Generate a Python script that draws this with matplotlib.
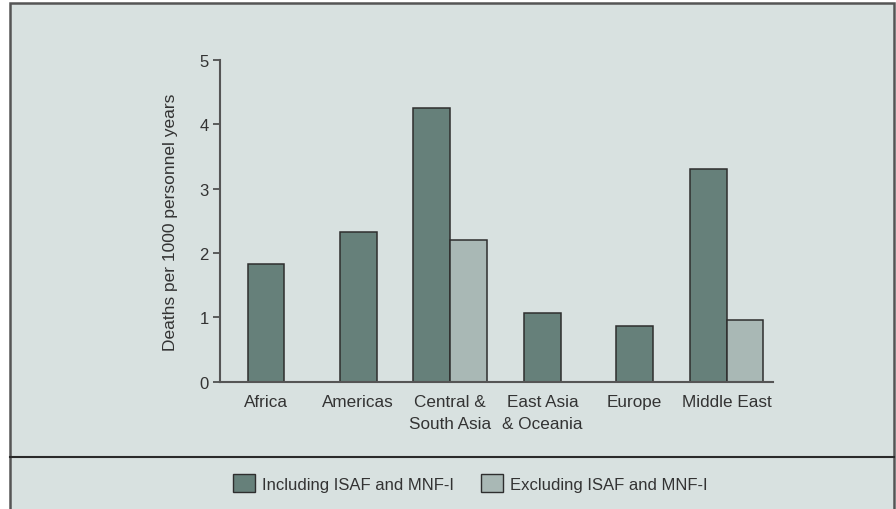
import numpy as np
import matplotlib.pyplot as plt
from matplotlib.patches import Rectangle
from matplotlib.lines import Line2D

# Данные
regions = ['Africa', 'Americas', 'Central &\nSouth Asia', 'East Asia\n& Oceania', 'Europe', 'Middle East']
including = [1.83, 2.32, 4.26, 1.07, 0.87, 3.30]
excluding = [None, None, 2.21, None, None, 0.96]
series_names = ['Including ISAF and MNF-I', 'Excluding ISAF and MNF-I']

width = 0.4

bg = '#d8e1e0'
dark = '#66807a'
light = '#a9b8b5'
edge = '#2e2e2e'
plt.rcParams['font.family'] = ['Liberation Sans', 'DejaVu Sans']

fig = plt.figure(figsize=(8.96, 5.10), dpi=100)
fig.patch.set_facecolor('white')

# Панель с рамкой
fig.patches.append(Rectangle((10 / 896, -0.05), 884 / 896, 1 - 4 / 510 + 0.05,
                             transform=fig.transFigure, facecolor=bg,
                             edgecolor='#555555', linewidth=1.8, zorder=-2))
fig.lines.append(Line2D([10 / 896, 894 / 896], [1 - 458 / 510] * 2,
                        transform=fig.transFigure, color='#2a2a2a', linewidth=1.5, zorder=-1))

ax = fig.add_axes([220 / 896, 1 - 382.7 / 510, (772.7 - 220) / 896, (382.7 - 61) / 510])
ax.set_facecolor('none')

x = np.arange(len(regions))
for i in x:
    if excluding[i] is None:
        ax.bar(i, including[i], width, color=dark, edgecolor=edge, linewidth=1.1)
    else:
        ax.bar(i - width / 2, including[i], width, color=dark, edgecolor=edge, linewidth=1.1)
        ax.bar(i + width / 2, excluding[i], width, color=light, edgecolor=edge, linewidth=1.1)

ax.set_xlim(-0.5, len(regions) - 0.5)
ax.set_ylim(0, 5)
ax.set_yticks([0, 1, 2, 3, 4, 5])
ax.set_xticks(x)
ax.set_xticklabels(regions, fontsize=12.3, color='#333333', linespacing=1.55)
ax.tick_params(axis='x', length=0, pad=9)
ax.tick_params(axis='y', length=5, width=1.2, color='#444444', labelsize=12, labelcolor='#333333', pad=3)
for s in ['top', 'right']:
    ax.spines[s].set_visible(False)
for s in ['left', 'bottom']:
    ax.spines[s].set_color('#555555')
    ax.spines[s].set_linewidth(1.5)
ax.set_ylabel('Deaths per 1000 personnel years', fontsize=12.5, color='#333333')
ax.yaxis.set_label_coords(-0.076, 0.5)

handles = [Rectangle((0, 0), 1, 1, facecolor=dark, edgecolor=edge),
           Rectangle((0, 0), 1, 1, facecolor=light, edgecolor=edge)]
fig.legend(handles, series_names, loc='center', bbox_to_anchor=(470 / 896, 1 - 484 / 510),
           ncol=2, frameon=False, prop={'size': 12},
           handlelength=1.32, handleheight=1.32, handletextpad=0.42, columnspacing=1.6,
           labelcolor='#333333')

plt.savefig('out.png', dpi=100)
